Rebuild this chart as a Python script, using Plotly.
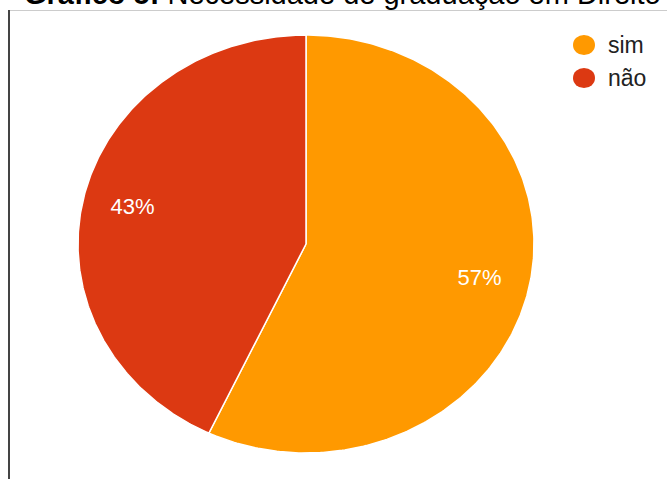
import numpy as np
import plotly.graph_objects as go

# Survey answers
categories = ["sim", "não"]
shares = [57, 43]
colors = ["#FF9900", "#DC3912"]
title_bold = "Gráfico 5:"
title_rest = "Necessidade de graduação em Direito"

W, H = 667, 479
# pie geometry in pixels (slightly wider than tall)
cx, cy, rx, ry = 306, 244, 228, 209
label_r = 0.78

fig = go.Figure()

total = float(sum(shares))
start = 0.0
for name, val, col in zip(categories, shares, colors):
    frac = val / total
    theta = np.linspace(start, start + frac, 300) * 2 * np.pi
    xs = np.concatenate([[0], np.sin(theta), [0]])
    ys = np.concatenate([[0], np.cos(theta), [0]])
    fig.add_trace(go.Scatter(
        x=xs, y=ys, mode="lines", fill="toself", fillcolor=col,
        line=dict(color="white", width=1.5), name=name,
        showlegend=False, hoverinfo="skip",
    ))
    mid = (start + frac / 2) * 2 * np.pi
    fig.add_trace(go.Scatter(
        x=[label_r * np.sin(mid)], y=[label_r * np.cos(mid)],
        mode="text", text=[f"{val}%"],
        textfont=dict(family="Liberation Sans", size=22, color="white"),
        showlegend=False, hoverinfo="skip",
    ))
    start += frac

fig.update_xaxes(range=[-cx / rx, (W - cx) / rx], visible=False, fixedrange=True)
fig.update_yaxes(range=[-(H - cy) / ry, cy / ry], visible=False, fixedrange=True)

shapes = [
    dict(type="line", xref="paper", yref="paper", x0=9 / W, x1=1,
         y0=1 - 10.5 / H, y1=1 - 10.5 / H, line=dict(color="#cccccc", width=1),
         layer="below"),
    dict(type="line", xref="paper", yref="paper", x0=9 / W, x1=9 / W,
         y0=0, y1=1 - 10 / H, line=dict(color="#444444", width=2),
         layer="below"),
]
annotations = [
    dict(text=f"<b>{title_bold}</b> {title_rest}", xref="paper", yref="paper",
         x=22 / W, y=1 - 12 / H, xanchor="left", yanchor="bottom",
         showarrow=False, font=dict(family="Liberation Sans", size=29, color="black")),
]

# legend: colored dots with category names
leg_x, leg_y0, leg_dy, dot_r = 584, 45, 33, 11
for i, (name, col) in enumerate(zip(categories, colors)):
    yc = leg_y0 + i * leg_dy
    shapes.append(dict(type="circle", xref="paper", yref="paper",
                       x0=(leg_x - dot_r) / W, x1=(leg_x + dot_r) / W,
                       y0=1 - (yc + dot_r * 0.92) / H, y1=1 - (yc - dot_r * 0.92) / H,
                       fillcolor=col, line=dict(width=0)))
    annotations.append(dict(text=name, xref="paper", yref="paper",
                            x=(leg_x + 22) / W, y=1 - yc / H,
                            xanchor="left", yanchor="middle", showarrow=False,
                            font=dict(family="Liberation Sans", size=23, color="#222222")))

fig.update_layout(
    width=W, height=H, margin=dict(l=0, r=0, t=0, b=0),
    paper_bgcolor="white", plot_bgcolor="white",
    shapes=shapes, annotations=annotations, showlegend=False,
)

fig.write_html("out.html")
